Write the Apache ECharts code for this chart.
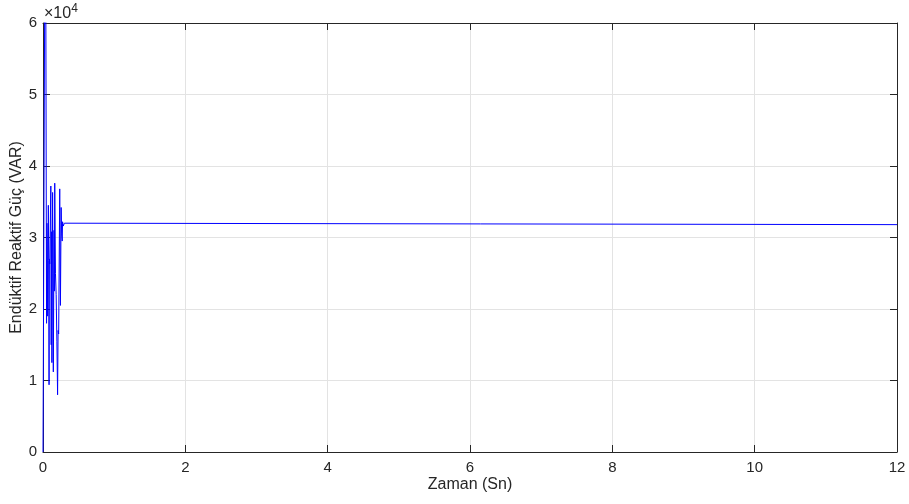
<!DOCTYPE html>
<html><head><meta charset="utf-8">
<script src="https://cdn.jsdelivr.net/npm/echarts@6/dist/echarts.min.js"></script>
<style>html,body{margin:0;padding:0;background:#fff}#c{width:909px;height:504px}</style>
</head><body><div id="c"></div>
<script>
const timeS = [0,0.02,0.03,0.04,0.05,0.055,0.06,0.065,0.075,0.08,0.085,0.09,0.095,0.11,0.115,0.12,0.125,0.135,0.14,0.145,0.155,0.16,0.165,0.175,0.185,0.195,0.205,0.212,0.22,0.235,0.245,0.255,0.262,0.27,0.275,0.285,0.3,0.32,12];
const reactivePower = [0,0,80000,62000,18000,32000,29500,19000,34500,26800,9400,27000,26300,37200,15000,30800,12500,36300,25000,11200,31000,22500,37600,25000,22000,15500,8000,17000,16500,36800,20500,34200,30500,29500,32200,31600,32000,31800,31800];
const xTicks = [0,2,4,6,8,10,12];
const yTicks = [0,1,2,3,4,5,6];

const font = '"Liberation Sans", Arial, Helvetica, sans-serif';
const txt = '#262626';
const chart = echarts.init(document.getElementById('c'));
const axisCommon = {
  axisLine:{show:true,onZero:false,lineStyle:{color:txt,width:1}},
  axisTick:{show:true,inside:true,length:7,lineStyle:{color:txt}},
  splitLine:{show:false}
};
chart.setOption({
  animation:false,
  grid:{left:43,right:12,top:23,bottom:52,containLabel:false,outerBoundsMode:'none'},
  xAxis:[
    Object.assign({type:'value',min:xTicks[0],max:xTicks[xTicks.length-1],interval:2,position:'bottom',
      name:'Zaman (Sn)',nameLocation:'middle',nameGap:25,nameMoveOverlap:false,
      nameTextStyle:{fontFamily:font,fontSize:16,color:txt},
      axisLabel:{fontFamily:font,fontSize:15,color:txt,margin:8},
    },axisCommon,{splitLine:{show:true,lineStyle:{color:'#e3e3e3',width:1}}}),
    Object.assign({type:'value',min:0,max:12,interval:2,position:'top',axisLabel:{show:false}},axisCommon)
  ],
  yAxis:[
    Object.assign({type:'value',min:0,max:60000,interval:10000,position:'left',
      name:'Endüktif Reaktif Güç (VAR)',nameLocation:'middle',nameGap:18,nameMoveOverlap:false,
      nameTextStyle:{fontFamily:font,fontSize:16,color:txt},
      axisLabel:{fontFamily:font,fontSize:15,color:txt,margin:6,formatter:v=>String(yTicks[Math.round(v/10000)])},
    },axisCommon,{splitLine:{show:true,lineStyle:{color:'#e3e3e3',width:1}}}),
    Object.assign({type:'value',min:0,max:60000,interval:10000,position:'right',axisLabel:{show:false}},axisCommon)
  ],
  graphic:[{type:'text',left:44,top:3,style:{
    text:'{a|×10}{b|4}',
    rich:{a:{fontFamily:font,fontSize:16,fill:txt},b:{fontFamily:font,fontSize:12,fill:txt,verticalAlign:'top',padding:[0,0,9,0]}}
  }}],
  series:[{type:'line',xAxisIndex:0,yAxisIndex:0,showSymbol:false,symbol:'none',clip:true,
    lineStyle:{color:'#0000ff',width:1},
    data:timeS.map((t,i)=>[t,reactivePower[i]])}]
});
</script></body></html>
